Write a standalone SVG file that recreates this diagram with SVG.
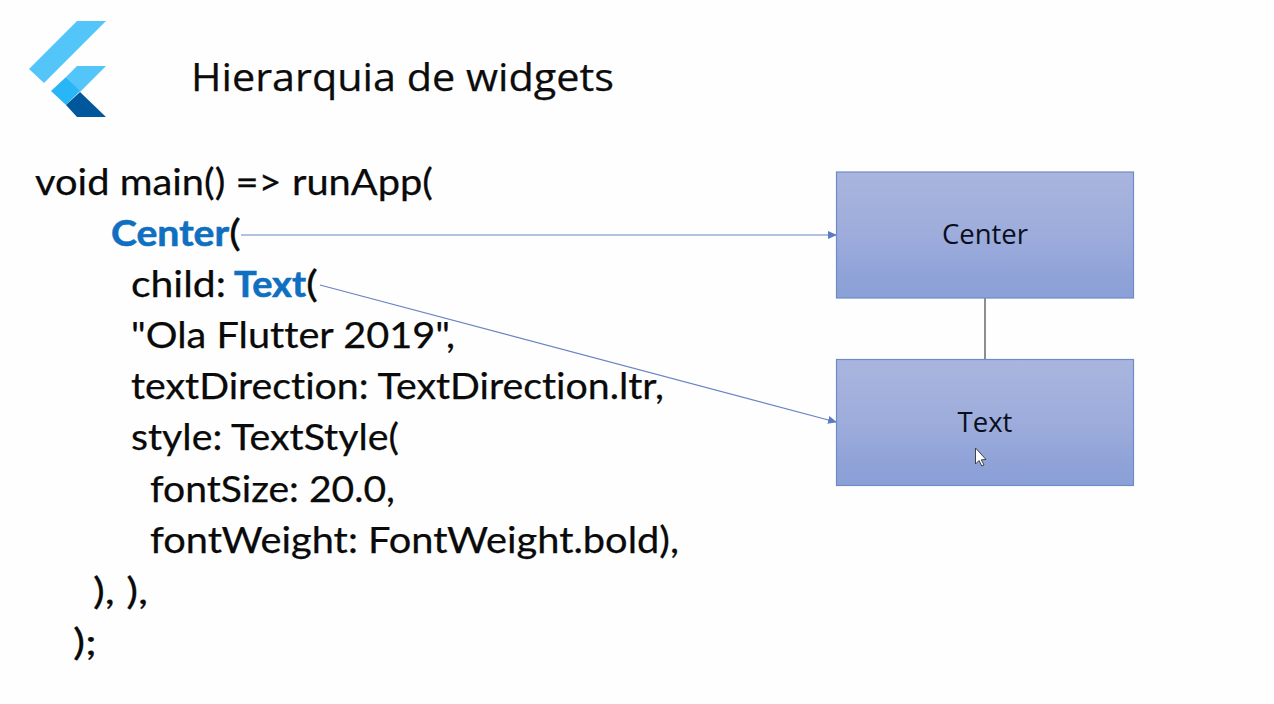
<svg xmlns="http://www.w3.org/2000/svg" width="1274" height="704" viewBox="0 0 1274 704">
<style>
.c{font-family:Lato,"Liberation Sans",sans-serif;font-size:37px;fill:#0a0a0a;stroke:#0a0a0a;stroke-width:.25;font-variant-ligatures:none}
.k{font-family:Lato,"Liberation Sans",sans-serif;font-size:37px;font-weight:700;fill:#0f6fc0;stroke:#0f6fc0;stroke-width:.6;font-variant-ligatures:none}
.t{font-family:"Open Sans","Noto Sans",sans-serif;font-size:38.500px;fill:#0c0c0c;stroke:#0c0c0c;stroke-width:.25}
.n{font-family:"Open Sans","Noto Sans",sans-serif;font-size:27.500px;fill:#0a0f20;text-anchor:middle}
.b{stroke:#6f8ac8;stroke-width:1.2}
</style>
<defs>
<linearGradient id="g" x1="0" y1="0" x2="0" y2="1"><stop offset="0" stop-color="#a9b5de"/><stop offset="0.5" stop-color="#9dacdb"/><stop offset="0.85" stop-color="#8ea2d8"/><stop offset="1" stop-color="#8aa0d6"/></linearGradient>
<marker id="a" markerWidth="9" markerHeight="8" refX="8" refY="4" orient="auto" markerUnits="userSpaceOnUse"><path d="M0 0L9 4L0 8Z" fill="#5b7cc4"/></marker>
</defs>
<rect width="1274" height="704" fill="#fefefe"/>
<g id="logo">
<polygon points="77,21 106,21 44,83 29,69" fill="#54c5f8"/>
<polygon points="77,66 106,66 80,92 66,77" fill="#54c5f8"/>
<polygon points="51,91 66,77 80,91 66,105" fill="#29b6f6"/>
<polygon points="66,105 80,92 106,117 77,117" fill="#01579b"/>
</g>
<text class="t" x="191" y="91" textLength="423" lengthAdjust="spacingAndGlyphs">Hierarquia de widgets</text>
<g id="code">
<text class="c" x="35" y="195" textLength="398" lengthAdjust="spacingAndGlyphs">void main() =&gt; runApp(</text>
<text class="k" x="111" y="246" textLength="118" lengthAdjust="spacingAndGlyphs">Center</text>
<text class="c" x="229" y="246" textLength="12" lengthAdjust="spacingAndGlyphs">(</text>
<text class="c" x="131" y="297" textLength="95" lengthAdjust="spacingAndGlyphs">child:</text>
<text class="k" x="234" y="297" textLength="72" lengthAdjust="spacingAndGlyphs">Text</text>
<text class="c" x="306" y="297" textLength="12" lengthAdjust="spacingAndGlyphs">(</text>
<text class="c" x="131" y="348" textLength="324" lengthAdjust="spacingAndGlyphs">"Ola Flutter 2019",</text>
<text class="c" x="131" y="399" textLength="533" lengthAdjust="spacingAndGlyphs">textDirection: TextDirection.ltr,</text>
<text class="c" x="131" y="450" textLength="268" lengthAdjust="spacingAndGlyphs">style: TextStyle(</text>
<text class="c" x="150" y="502" textLength="245" lengthAdjust="spacingAndGlyphs">fontSize: 20.0,</text>
<text class="c" x="150" y="553" textLength="529" lengthAdjust="spacingAndGlyphs">fontWeight: FontWeight.bold),</text>
<text class="c" x="93" y="604" textLength="55" lengthAdjust="spacingAndGlyphs">), ),</text>
<text class="c" x="73" y="655" textLength="24" lengthAdjust="spacingAndGlyphs">);</text>
</g>
<g id="connectors">
<line x1="241" y1="235" x2="836" y2="235" stroke="#6b83c4" stroke-width="1.2" marker-end="url(#a)"/>
<line x1="320" y1="285" x2="836" y2="422" stroke="#6b83c4" stroke-width="1.2" marker-end="url(#a)"/>
<line x1="985" y1="298" x2="985" y2="360" stroke="#444" stroke-width="1.2"/>
</g>
<g id="node-center">
<rect class="b" x="836.500" y="172" width="297" height="126" fill="url(#g)"/>
<text class="n" x="985" y="244">Center</text>
</g>
<g id="node-text">
<rect class="b" x="836.500" y="359.500" width="297" height="126" fill="url(#g)"/>
<text class="n" x="985" y="432">Text</text>
</g>
<path id="cursor" d="M975.500 448V464L979 460.500L981.800 466L984 465L981.300 459.800L986 459.500Z" fill="#fff" stroke="#333" stroke-width="0.9"/>
</svg>
